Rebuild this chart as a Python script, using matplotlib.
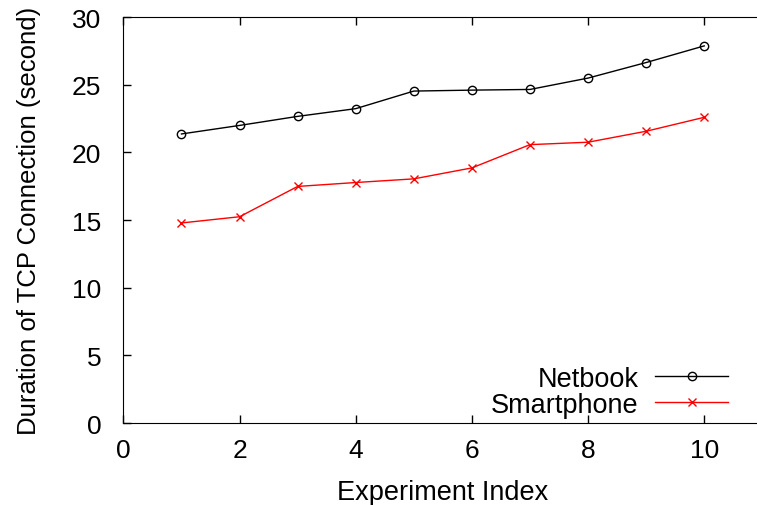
import numpy as np
import matplotlib
matplotlib.use('Agg')
import matplotlib.pyplot as plt

plt.rcParams['font.family'] = ['Liberation Sans', 'DejaVu Sans']

experiment = [1, 2, 3, 4, 5, 6, 7, 8, 9, 10]
netbook = [21.37, 22.0, 22.67, 23.24, 24.54, 24.61, 24.66, 25.5, 26.65, 27.88]
smartphone = [14.79, 15.25, 17.49, 17.78, 18.05, 18.86, 20.58, 20.76, 21.57, 22.6]

fig = plt.figure(figsize=(7.57, 5.06), dpi=100)
# right edge runs off the image, like the original
ax = fig.add_axes([0.163, 0.162, 0.8440, 0.802])

ax.plot(experiment, netbook, color='black', lw=1.0, marker='o', ms=6,
        mfc='none', mec='black', mew=1.0, label='Netbook')
ax.plot(experiment, smartphone, color='red', lw=1.0, marker='x', ms=6,
        mew=1.0, label='Smartphone')

ax.set_xlim(0, 11)
ax.set_ylim(0, 30)
ax.set_xticks([0, 2, 4, 6, 8, 10])
ax.set_yticks([0, 5, 10, 15, 20, 25, 30])
ax.spines['right'].set_visible(False)
ax.tick_params(direction='in', length=6, width=1, labelsize=19,
               top=True, right=False)
ax.tick_params(axis='x', pad=11)
ax.tick_params(axis='y', pad=16)

ax.set_xlabel('Experiment Index', fontsize=19.5, labelpad=12)
ax.set_ylabel('Duration of TCP Connection (second)', fontsize=18.5, labelpad=22)

ax.legend(loc='lower right', bbox_to_anchor=(0.962, 0.172),
          bbox_transform=fig.transFigure, frameon=False,
          markerfirst=False, handlelength=2.7, fontsize=19.5,
          labelspacing=0.0, handletextpad=0.62, borderaxespad=0, borderpad=0)

fig.savefig('out.png', dpi=100)
